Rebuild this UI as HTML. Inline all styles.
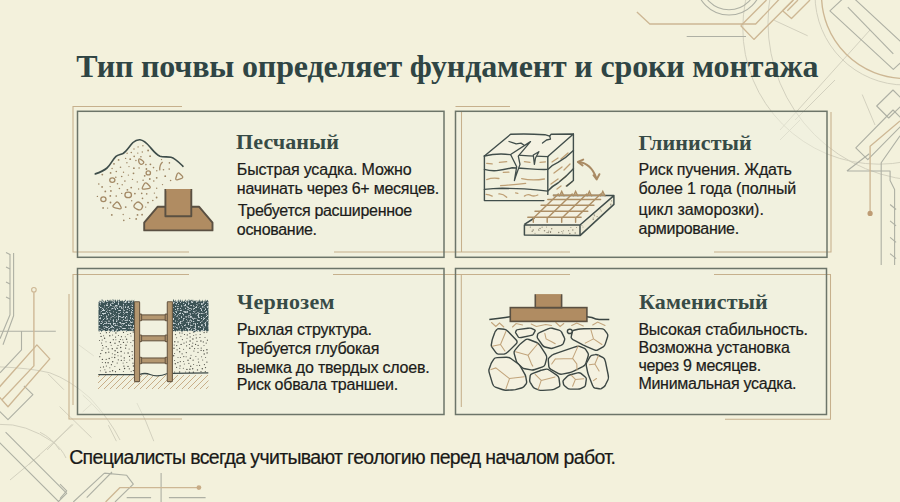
<!DOCTYPE html>
<html><head><meta charset="utf-8">
<style>
html,body{margin:0;padding:0;}
body{width:900px;height:502px;overflow:hidden;background:#F3F1DC;position:relative;font-family:"Liberation Sans",sans-serif;}
.a{position:absolute;white-space:nowrap;}
.title{font-family:"Liberation Serif",serif;font-weight:700;font-size:32px;color:#2F4544;line-height:40px;}
.h{font-family:"Liberation Serif",serif;font-weight:700;font-size:22px;color:#374B46;line-height:30px;}
.t{font-size:16px;color:#1C1C1A;line-height:24px;-webkit-text-stroke:0.2px #1C1C1A;}
.foot{font-size:19.5px;color:#191917;line-height:28px;-webkit-text-stroke:0.2px #191917;}
svg{position:absolute;left:0;top:0;}
</style></head><body>
<svg width="900" height="502" viewBox="0 0 900 502">
  <g id="bg" fill="none" stroke-linejoin="round">
<g stroke="#CFCDBB" stroke-width="0.9">
<circle cx="905" cy="-5" r="90"/>
<circle cx="878.9" cy="28.1" r="136.1"/>
<circle cx="926.2" cy="22.6" r="158.2"/>
<path d="M0,366.9 Q30,368 49.8,372.8 Q70,380 90,398 Q110,420 120,440"/>
<path d="M0,424.4 Q25,423 53.3,442.2 Q62,449 66,458"/>
<path d="M78.8,344.9 L93.8,355.9 M48,373.8 L63.9,389.7"/>
<path d="M59.6,406.6 L91.6,437.7 M82.7,395 Q92,403 100.4,412.8 M91.6,403.9 L82.7,411.9 M108.4,425.2 L116.4,441.2 M136.9,403 Q146,420 153.8,441.2 M72,424.3 L47.1,450 M40,432.3 Q52,438 59.6,450"/>
<path d="M780,130 L870,30" />
<path d="M862.2,94.5 L875,125"/>
<path d="M774.2,20.3 L807.7,35.8"/>
<path d="M28.9,464.4 L73.3,424.4 M10,480 L40,455"/>
<path d="M795,120 L835,80 M780,140 L800,120"/>
</g>
<g stroke="#AEB0A4" stroke-width="1.1">
<path d="M686.7,36.5 H746"/>
<circle cx="729" cy="-18" r="27.8"/><circle cx="729" cy="-18" r="33"/>
<path d="M829.9,10.8 L893.3,69.4 L912,52 L848.6,-6.6 Z"/>
<path d="M847.8,7.2 L893.3,53.8"/>
<path d="M855.8,147.8 L867.8,159.7 L905,122 L893,110 Z"/>
<path d="M876.7,106 L888.7,118 L905,102 L893,90 Z"/>
<path d="M846.9,171 L869.3,153.7 M846.9,171 H890.1 V180.6 L894.6,189.6 V265"/>
<path d="M881.2,265 V162.7 L900,135.8"/>
<path d="M890.1,204.5 L896.1,209.5 M890.1,220.9 L896.1,225.9 M890.1,237.3 L896.1,242.3 M890.1,253.7 L896.1,258.7"/>
<path d="M10,254 V314.8 L0,338.7 M13.6,253 V315.8 L3,344.7"/>
<path d="M6,252.5 L10,254.5 M6,267 L10,269 M6,282 L10,284 M6,297 L10,299"/>
<path d="M0,331.3 H55.8 M21.5,331.3 V349.9 L0,372.8"/>
<path d="M23.9,385.8 L32.9,394.7 L8,419.6 L-1,410.7"/>
<path d="M5.6,432.2 L66.7,493.3 L58,502 M-5,438 L59,502"/>
<path d="M73.3,502 L104.4,473.1 M86.7,497.6 L112,472 M104.4,473.1 L126.7,475.3 L133.3,484.2 L115,502"/>
<path d="M126.7,497.6 H151.1 M168.9,497.6 H205.6 M161.1,473 V502 M60,484.2 L66.7,490.9 L60,498.7"/>
</g>
<g stroke="#CDB794" stroke-width="1.35">
<path d="M636.9,12.1 L649.8,24 H755.7 L779,-0.5"/>
<path d="M740.8,25.7 L753.9,39.4 L793.3,0 M740.8,25.7 L766.5,0"/>
<path d="M782.6,10.8 L791.5,18.5 L810,0 M782.6,10.8 L793.4,0 M787.3,10.8 L798,0"/>
<circle cx="905" cy="-5" r="83.5"/>
<path d="M900,120.9 L870.1,146.3 V211"/>
<path d="M33.9,292.2 V365.9 L2,399.7"/>
<path d="M36.9,344.9 L49.8,358.9 L8,406.7 L-5,392 Z"/>
<path d="M105.6,502 L120,487.6 H197"/>
</g>
<circle cx="870.1" cy="213.4" r="2.6" fill="#BE9C74"/>
<circle cx="198.9" cy="487.6" r="2.4" fill="#C8AC86"/>
<circle cx="33.9" cy="289.8" r="2.3" stroke="#CDB794" stroke-width="1.1" fill="none"/>
</g>
  <!-- card fills -->
  <g fill="#F0F2E2" fill-opacity="0.45">
    <rect x="77.5" y="111.3" width="366.5" height="146"/>
    <rect x="455.5" y="111.3" width="371.5" height="146"/>
    <rect x="77.5" y="268.5" width="366.5" height="146"/>
    <rect x="455.5" y="268.5" width="371" height="146"/>
  </g>
  <!-- tan frame lines -->
  <g stroke="#C6B08C" stroke-width="1.05" fill="none">
    <path d="M182 106.5H73V252H189 M334 252H570 M714 252H831V112"/>
    <path d="M510 106.5H455.5 M461.5 111V252"/>
    <path d="M189 274.4H73V405 M69 294V419H182 M333 274.4H570 M714 274.4H830.5V419.3H725 M461.3 274.4V407"/>
  </g>
  <!-- dark frames -->
  <g stroke="#6C7569" stroke-width="1.5" fill="none">
    <rect x="77.5" y="111.3" width="366.5" height="146"/>
    <rect x="455.5" y="111.3" width="371.5" height="146"/>
    <rect x="77.5" y="268.5" width="366.5" height="146"/>
    <rect x="455.5" y="268.5" width="371" height="146"/>
  </g>
<g id="sand">
<path d="M95.3,173.9 C101,172 104,170.5 107,168 C110.5,165 112.5,159.5 116,156.3 C118,154.8 120.5,154.6 123,153.5 C127,151 129.5,146 133,142.5 C135.5,140.3 137.5,139.6 140,139.8 C144,140.2 147,143.5 150,147 C153,150.5 156,154.5 160,156.3 C163,157.3 168,156.6 171,157.3 C175,158.3 179,162.5 183,166.3" fill="none" stroke="#3E4D4A" stroke-width="1.65" stroke-linecap="round"/>
<g fill="#9C8462">
<circle cx="127.1" cy="153.2" r="0.7"/>
<circle cx="135.9" cy="160.5" r="0.7"/>
<circle cx="125.7" cy="207.1" r="0.9"/>
<circle cx="150.1" cy="156.2" r="0.9"/>
<circle cx="116.2" cy="196.1" r="0.8"/>
<circle cx="124.9" cy="181.1" r="0.8"/>
<circle cx="123.8" cy="220.4" r="0.8"/>
<circle cx="136.2" cy="218.9" r="0.9"/>
<circle cx="123.5" cy="172.2" r="0.7"/>
<circle cx="153.8" cy="181.0" r="0.8"/>
<circle cx="118.6" cy="159.9" r="0.9"/>
<circle cx="114.0" cy="163.8" r="0.9"/>
<circle cx="133.5" cy="173.3" r="0.9"/>
<circle cx="134.2" cy="156.4" r="0.8"/>
<circle cx="112.1" cy="168.5" r="0.7"/>
<circle cx="116.3" cy="171.5" r="0.8"/>
<circle cx="140.9" cy="156.7" r="0.8"/>
<circle cx="119.4" cy="188.5" r="0.8"/>
<circle cx="115.8" cy="177.2" r="0.8"/>
<circle cx="138.1" cy="146.9" r="0.7"/>
<circle cx="156.8" cy="170.7" r="0.7"/>
<circle cx="169.4" cy="162.9" r="0.8"/>
<circle cx="125.6" cy="158.4" r="0.7"/>
<circle cx="132.5" cy="179.4" r="0.7"/>
<circle cx="144.7" cy="175.8" r="0.9"/>
<circle cx="161.5" cy="159.6" r="0.7"/>
<circle cx="98.8" cy="184.0" r="0.8"/>
<circle cx="154.4" cy="193.1" r="0.7"/>
<circle cx="142.5" cy="198.4" r="0.8"/>
<circle cx="129.0" cy="166.6" r="0.7"/>
<circle cx="139.1" cy="168.0" r="0.8"/>
<circle cx="128.4" cy="175.1" r="0.7"/>
<circle cx="142.1" cy="214.7" r="0.9"/>
<circle cx="110.6" cy="172.9" r="0.9"/>
<circle cx="129.7" cy="218.4" r="0.7"/>
<circle cx="103.1" cy="207.9" r="0.9"/>
<circle cx="153.5" cy="167.6" r="0.8"/>
<circle cx="134.9" cy="193.6" r="0.9"/>
<circle cx="131.7" cy="200.8" r="0.7"/>
<circle cx="123.2" cy="214.5" r="0.7"/>
<circle cx="131.3" cy="152.5" r="0.8"/>
<circle cx="143.1" cy="180.2" r="0.8"/>
<circle cx="146.7" cy="193.9" r="0.8"/>
<circle cx="105.3" cy="191.4" r="0.9"/>
<circle cx="120.5" cy="167.2" r="0.8"/>
<circle cx="110.9" cy="190.9" r="0.9"/>
<circle cx="102.1" cy="186.9" r="0.9"/>
<circle cx="130.2" cy="159.2" r="0.9"/>
<circle cx="111.8" cy="214.9" r="0.9"/>
<circle cx="162.5" cy="184.6" r="0.7"/>
<circle cx="150.4" cy="164.3" r="0.9"/>
<circle cx="165.2" cy="176.2" r="0.9"/>
<circle cx="156.7" cy="188.3" r="0.7"/>
<circle cx="156.7" cy="177.8" r="0.9"/>
<circle cx="146.4" cy="169.0" r="0.9"/>
<circle cx="169.2" cy="169.1" r="0.8"/>
<circle cx="142.9" cy="145.7" r="0.7"/>
<circle cx="152.8" cy="200.5" r="0.8"/>
<circle cx="97.4" cy="196.4" r="0.7"/>
<circle cx="110.5" cy="202.5" r="0.9"/>
<circle cx="131.2" cy="187.6" r="0.9"/>
<circle cx="126.9" cy="162.7" r="0.7"/>
<circle cx="138.6" cy="189.0" r="0.7"/>
<circle cx="110.3" cy="195.9" r="0.9"/>
<circle cx="137.8" cy="153.1" r="0.7"/>
<circle cx="137.5" cy="214.9" r="0.9"/>
<circle cx="149.4" cy="220.8" r="0.9"/>
<circle cx="137.3" cy="181.9" r="0.7"/>
<circle cx="148.1" cy="150.5" r="0.9"/>
<circle cx="145.7" cy="207.1" r="0.7"/>
<circle cx="134.0" cy="149.0" r="0.7"/>
<circle cx="121.7" cy="193.4" r="0.7"/>
<circle cx="163.5" cy="169.7" r="0.8"/>
<circle cx="117.5" cy="183.7" r="0.8"/>
<circle cx="156.6" cy="197.5" r="0.9"/>
<circle cx="110.2" cy="186.6" r="0.7"/>
<circle cx="148.0" cy="202.6" r="0.9"/>
<circle cx="149.8" cy="179.0" r="0.9"/>
<circle cx="141.7" cy="193.4" r="0.8"/>
<circle cx="127.4" cy="189.8" r="0.9"/>
<circle cx="170.6" cy="180.5" r="0.8"/>
<circle cx="102.3" cy="174.6" r="0.9"/>
<circle cx="133.9" cy="168.2" r="0.9"/>
<circle cx="142.3" cy="152.0" r="0.7"/>
<circle cx="121.7" cy="176.5" r="0.8"/>
<circle cx="107.6" cy="208.1" r="0.7"/>
<circle cx="145.9" cy="164.6" r="0.8"/>
<circle cx="122.2" cy="184.8" r="0.7"/>
</g>
<g fill="none" stroke="#A48A66" stroke-width="1.3">
<path d="M115.62,202.85 Q117.6,200.8 119.15,203.64 L120.75,206.56 Q122.3,209.4 118.77,208.61 L115.13,207.79 Q111.6,207 113.58,204.95 Z"/>
<path d="M135.62,203.32 Q137.8,200.8 140.24,202.90 L141.16,203.70 Q143.6,205.8 142.09,207.94 L141.51,208.76 Q140,210.9 136.89,209.18 L135.71,208.52 Q132.6,206.8 134.78,204.28 Z"/>
<path d="M144.01,184.24 Q145.4,181.6 147.45,183.75 L149.55,185.95 Q151.6,188.1 148.17,188.59 L144.63,189.10 Q141.2,189.6 142.59,186.96 Z"/>
<path d="M176.88,174.70 Q177.8,171.8 179.85,173.71 L181.95,175.69 Q184,177.6 181.03,178.59 L177.97,179.61 Q175,180.6 175.92,177.70 Z"/>
<path d="M138.67,160.21 Q138.5,157.9 141.06,159.62 L142.04,160.28 Q144.6,162 143.42,163.18 L142.98,163.62 Q141.8,164.8 140.58,164.21 L140.12,163.99 Q138.9,163.4 138.73,161.09 Z"/>
<ellipse cx="148.3" cy="172.9" rx="2.2" ry="2"/>
<ellipse cx="112.3" cy="180.1" rx="2.6" ry="2.3"/>
<ellipse cx="128.2" cy="194.9" rx="3.3" ry="2.8"/>
<ellipse cx="103.4" cy="199.2" rx="2.6" ry="2.4"/>
<path d="M162.6,162 Q159.2,165 159.8,170.4"/>
</g>
<path d="M144.2,230.4 V222.7 L157.5,206.8 H199.2 L212.5,222.7 V230.4 Z" fill="#B08C62" stroke="#5A5042" stroke-width="1.9" stroke-linejoin="round"/>
<path d="M165.4,189 V216.2 H191.3 V189" fill="#B08C62" stroke="#5A5042" stroke-width="1.9" stroke-linejoin="round"/>
<rect x="166.4" y="189" width="23.9" height="2" fill="#B08C62"/>
</g>
<g id="clay">
<path d="M484.4,156 L510.6,134.3 L573.4,134 L547.8,156.6 Z" fill="#F4F2E2"/>
<g fill="none" stroke="#BE9F74" stroke-width="1.3" stroke-linecap="round">
<path d="M486.7,163.3 L492.2,163.9"/>
<path d="M499.4,162.4 L506.7,161.7"/>
<path d="M524.4,161.7 L530,162.3"/>
<path d="M540,162.3 L545.4,161.8"/>
<path d="M503.3,172.4 L508.9,172.2"/>
<path d="M486.7,179.6 Q492,177.6 498.9,178.5"/>
<path d="M521.7,178.6 Q532,181 544.4,179"/>
<path d="M500.6,185.6 Q512,184.8 525.6,183.4"/>
<path d="M486.1,194.4 Q489,194.6 492.2,196.1"/>
<path d="M498.9,193.9 Q503,193.5 506.7,197.2"/>
<path d="M515.6,192.9 L517.8,193.3"/>
<path d="M524.4,196.1 Q528,193.6 531,195.4 Q534,196.8 537.8,195"/>
<path d="M552,162 L558,158"/>
<path d="M561,159 L568,153"/>
<path d="M554,173 L562,167"/>
<path d="M564,170 L570,164"/>
<path d="M551,184 L558,179"/>
<path d="M560,181 L566,176"/>
<path d="M566,186 L572,182"/>
<path d="M557,189 L561,186"/>
</g>
<g fill="none" stroke="#414E4B" stroke-width="1.4" stroke-linejoin="round" stroke-linecap="round">
<path d="M484.4,156 Q497,153 510,154.6 Q529,156 547.8,156.6"/>
<path d="M484.4,156 V200.6 H543.9"/>
<path d="M547.8,156.6 V194.4"/>
<path d="M484.4,156 L510.6,134.3 Q526,133.4 544.9,134.7 L549.7,136.2 L551.2,134.2 L573.4,134 L547.8,156.6"/>
<path d="M573.4,134 V180.5 L566.7,186.1"/>
<path d="M484.4,169.4 Q490,171 496.7,170.6 Q505,169.5 512.2,167.8 Q521,168.2 530,168.9 Q540,169.6 547.8,169.4 Q553,164.5 558,162.4 Q566,158 573.4,150.5"/>
<path d="M484.4,189.4 Q493,188.5 502.2,188.3 Q514,188.5 524.4,188.9 Q537,190 547.8,191.1 Q553,185.5 558,183 Q566,177 573.4,168.8"/>
</g>
<g fill="none" stroke="#414E4B" stroke-width="1.3" stroke-linejoin="round" stroke-linecap="round">
<path d="M530.5,141.6 L510.6,154.5 L516.7,166.7 L514.4,180.6 L515.6,176.7 L520,164.4 L518.3,156.1 L530.5,141.6" fill="#F4F2E2"/>
<path d="M538.9,151.7 L533.3,155 L534.4,164.4 L535.5,158 L538.9,151.7" fill="#F4F2E2"/>
<path d="M509,141.5 L512.5,142.6 L516.2,143.9 L521,143.1 L524.2,145.2"/>
<path d="M542.5,143.1 L546.5,140 L550.5,139.1 L549.7,136.2"/>
</g>
<g fill="none" stroke="#A98A63" stroke-width="2" stroke-linecap="round" stroke-linejoin="round">
<path d="M578.5,162 Q591,163 596.5,178.5"/>
<path d="M583.2,159.6 L577.9,161.9 L582.6,165.5"/>
<path d="M593.5,175.2 L596.7,179.4 L599.4,174.2"/>
</g>
<path d="M524.4,224.4 L553,195.6 L613.9,195.6 L580,225 Z" fill="#F2F0E0"/>
<path d="M524.4,224.4 L580,225 V235.6 L524.4,235 Z" fill="#EEEBD6"/>
<path d="M580,225 L613.9,195.6 V204.4 L580,235.6 Z" fill="#EEEBD6"/>
<g fill="#8F8A78">
<circle cx="538.9" cy="230.5" r="0.6"/>
<circle cx="572.8" cy="230.1" r="0.75"/>
<circle cx="530.3" cy="227.1" r="0.6"/>
<circle cx="540.0" cy="228.5" r="0.75"/>
<circle cx="550.5" cy="232.4" r="0.6"/>
<circle cx="546.9" cy="232.6" r="0.5"/>
<circle cx="558.7" cy="232.6" r="0.75"/>
<circle cx="546.5" cy="227.1" r="0.5"/>
<circle cx="535.0" cy="233.2" r="0.5"/>
<circle cx="542.1" cy="227.2" r="0.6"/>
<circle cx="550.6" cy="231.7" r="0.6"/>
<circle cx="562.7" cy="233.0" r="0.6"/>
<circle cx="563.4" cy="230.7" r="0.5"/>
<circle cx="570.9" cy="227.6" r="0.5"/>
<circle cx="551.7" cy="228.7" r="0.75"/>
<circle cx="548.8" cy="231.1" r="0.6"/>
<circle cx="548.1" cy="232.4" r="0.75"/>
<circle cx="544.5" cy="230.8" r="0.75"/>
<circle cx="538.6" cy="229.2" r="0.5"/>
<circle cx="569.8" cy="233.4" r="0.75"/>
<circle cx="561.8" cy="231.5" r="0.6"/>
<circle cx="575.2" cy="232.9" r="0.75"/>
<circle cx="532.2" cy="231.3" r="0.75"/>
<circle cx="568.6" cy="230.7" r="0.6"/>
<circle cx="533.2" cy="230.1" r="0.75"/>
<circle cx="576.5" cy="227.6" r="0.5"/>
<circle cx="594.2" cy="214.9" r="0.6"/>
<circle cx="594.7" cy="215.8" r="0.5"/>
<circle cx="583.0" cy="226.9" r="0.5"/>
<circle cx="593.2" cy="218.0" r="0.6"/>
<circle cx="597.1" cy="216.6" r="0.6"/>
<circle cx="581.9" cy="225.4" r="0.5"/>
<circle cx="610.6" cy="204.8" r="0.6"/>
<circle cx="600.3" cy="209.7" r="0.5"/>
<circle cx="611.6" cy="200.8" r="0.6"/>
<circle cx="610.9" cy="204.1" r="0.6"/>
<circle cx="593.2" cy="219.4" r="0.6"/>
<circle cx="601.3" cy="211.0" r="0.5"/>
</g>
<g fill="none" stroke="#414E4B" stroke-width="1.5" stroke-linejoin="round">
<path d="M524.4,224.4 L534.4,218 M553,195.6 H613.9 L580,225 H524.4 V235 L580,235.6 L613.9,204.4 V195.6 M580,225 V235.6"/>
</g>
<g fill="none" stroke="#AD8F66" stroke-width="1.45" stroke-linecap="round">
<path d="M553.3,195.3 H604.4"/>
<path d="M547.8,199.4 H600.6"/>
<path d="M541.1,205.3 H593.9"/>
<path d="M535,211.3 H587.8"/>
<path d="M527.8,217.2 H581.1"/>
<path d="M533.3,222.2 V218.3 L558.3,193.9"/>
<path d="M547.2,222.2 V218.3 L572.2,193.9"/>
<path d="M561.7,222.2 V218.3 L586.7,193.9"/>
<path d="M575.6,222.2 V218.3 L600.6,193.9"/>
<path d="M559.4000000000001,196 L561.7,191.2 L564.0,196 M560.5,194 H562.9000000000001" stroke-width="1.2"/>
<path d="M573.3000000000001,196 L575.6,191.2 L577.9,196 M574.4,194 H576.8000000000001" stroke-width="1.2"/>
<path d="M587.1,196 L589.4,191.2 L591.6999999999999,196 M588.1999999999999,194 H590.6" stroke-width="1.2"/>
<path d="M600.5,196 L602.8,191.2 L605.0999999999999,196 M601.5999999999999,194 H604.0" stroke-width="1.2"/>
</g>
</g>
<g id="cher">
<clipPath id="hc"><rect x="98" y="375" width="110.5" height="14"/></clipPath>
<g clip-path="url(#hc)" stroke="#C8AE88" stroke-width="1.0">
<path d="M80,389 L94,375"/>
<path d="M86,389 L100,375"/>
<path d="M92,389 L106,375"/>
<path d="M98,389 L112,375"/>
<path d="M104,389 L118,375"/>
<path d="M110,389 L124,375"/>
<path d="M116,389 L130,375"/>
<path d="M122,389 L136,375"/>
<path d="M128,389 L142,375"/>
<path d="M134,389 L148,375"/>
<path d="M140,389 L154,375"/>
<path d="M146,389 L160,375"/>
<path d="M152,389 L166,375"/>
<path d="M158,389 L172,375"/>
<path d="M164,389 L178,375"/>
<path d="M170,389 L184,375"/>
<path d="M176,389 L190,375"/>
<path d="M182,389 L196,375"/>
<path d="M188,389 L202,375"/>
<path d="M194,389 L208,375"/>
<path d="M200,389 L214,375"/>
<path d="M206,389 L220,375"/>
<path d="M212,389 L226,375"/>
<path d="M218,389 L232,375"/>
<path d="M224,389 L238,375"/>
<path d="M230,389 L244,375"/>
<path d="M236,389 L250,375"/>
</g>
<g fill="#4E4E46">
<circle cx="114.9" cy="354.7" r="0.6"/>
<circle cx="114.9" cy="366.6" r="0.5"/>
<circle cx="105.8" cy="352.7" r="0.7"/>
<circle cx="120.4" cy="339.5" r="0.6"/>
<circle cx="109.8" cy="335.7" r="0.7"/>
<circle cx="121.1" cy="356.1" r="0.6"/>
<circle cx="132.3" cy="358.5" r="0.7"/>
<circle cx="127.8" cy="334.6" r="0.5"/>
<circle cx="106.0" cy="341.8" r="0.5"/>
<circle cx="126.0" cy="345.2" r="0.7"/>
<circle cx="128.1" cy="353.0" r="0.7"/>
<circle cx="109.5" cy="332.2" r="0.5"/>
<circle cx="115.0" cy="343.3" r="0.7"/>
<circle cx="133.4" cy="366.0" r="0.7"/>
<circle cx="108.1" cy="362.7" r="0.7"/>
<circle cx="125.6" cy="348.2" r="0.6"/>
<circle cx="112.6" cy="370.8" r="0.7"/>
<circle cx="99.5" cy="340.5" r="0.5"/>
<circle cx="115.5" cy="371.7" r="0.6"/>
<circle cx="106.2" cy="359.3" r="0.6"/>
<circle cx="102.5" cy="345.5" r="0.6"/>
<circle cx="125.3" cy="336.8" r="0.5"/>
<circle cx="123.5" cy="332.4" r="0.6"/>
<circle cx="126.6" cy="339.2" r="0.7"/>
<circle cx="133.0" cy="363.2" r="0.6"/>
<circle cx="121.4" cy="336.7" r="0.6"/>
<circle cx="133.2" cy="332.0" r="0.7"/>
<circle cx="109.8" cy="367.8" r="0.5"/>
<circle cx="105.9" cy="372.3" r="0.7"/>
<circle cx="133.1" cy="340.6" r="0.6"/>
<circle cx="99.8" cy="356.7" r="0.6"/>
<circle cx="112.6" cy="335.0" r="0.5"/>
<circle cx="119.3" cy="341.8" r="0.7"/>
<circle cx="112.0" cy="357.2" r="0.5"/>
<circle cx="132.1" cy="351.6" r="0.7"/>
<circle cx="120.8" cy="344.6" r="0.5"/>
<circle cx="127.3" cy="342.1" r="0.5"/>
<circle cx="118.3" cy="359.8" r="0.6"/>
<circle cx="129.5" cy="356.4" r="0.6"/>
<circle cx="101.1" cy="336.4" r="0.7"/>
<circle cx="123.5" cy="342.4" r="0.7"/>
<circle cx="131.1" cy="371.6" r="0.5"/>
<circle cx="106.4" cy="332.7" r="0.6"/>
<circle cx="124.4" cy="353.1" r="0.5"/>
<circle cx="119.6" cy="369.4" r="0.6"/>
<circle cx="121.1" cy="351.5" r="0.7"/>
<circle cx="102.0" cy="350.4" r="0.6"/>
<circle cx="124.6" cy="368.5" r="0.7"/>
<circle cx="132.3" cy="345.8" r="0.5"/>
<circle cx="129.1" cy="348.9" r="0.5"/>
<circle cx="120.7" cy="347.5" r="0.7"/>
<circle cx="108.2" cy="348.9" r="0.6"/>
<circle cx="112.7" cy="361.8" r="0.7"/>
<circle cx="115.1" cy="350.7" r="0.7"/>
<circle cx="102.3" cy="362.4" r="0.5"/>
<circle cx="100.3" cy="370.8" r="0.5"/>
<circle cx="130.8" cy="342.4" r="0.5"/>
<circle cx="126.8" cy="362.6" r="0.5"/>
<circle cx="128.0" cy="366.4" r="0.7"/>
<circle cx="123.9" cy="366.1" r="0.7"/>
<circle cx="100.6" cy="367.3" r="0.5"/>
<circle cx="113.3" cy="339.7" r="0.6"/>
<circle cx="114.7" cy="357.5" r="0.7"/>
<circle cx="102.2" cy="340.0" r="0.6"/>
<circle cx="111.2" cy="345.2" r="0.5"/>
<circle cx="110.0" cy="371.6" r="0.6"/>
<circle cx="100.7" cy="353.6" r="0.7"/>
<circle cx="124.3" cy="357.9" r="0.7"/>
<circle cx="108.8" cy="352.2" r="0.6"/>
<circle cx="117.7" cy="352.4" r="0.7"/>
<circle cx="112.3" cy="353.8" r="0.5"/>
<circle cx="117.0" cy="348.2" r="0.7"/>
<circle cx="103.6" cy="335.8" r="0.5"/>
<circle cx="115.6" cy="337.1" r="0.6"/>
<circle cx="123.4" cy="371.6" r="0.5"/>
<circle cx="112.3" cy="348.7" r="0.7"/>
<circle cx="118.0" cy="355.8" r="0.5"/>
<circle cx="122.8" cy="339.7" r="0.5"/>
<circle cx="115.9" cy="333.0" r="0.7"/>
<circle cx="115.9" cy="339.7" r="0.5"/>
<circle cx="106.4" cy="366.0" r="0.6"/>
<circle cx="131.0" cy="335.9" r="0.5"/>
<circle cx="129.3" cy="368.8" r="0.6"/>
<circle cx="104.9" cy="369.8" r="0.5"/>
<circle cx="123.1" cy="363.1" r="0.5"/>
<circle cx="121.3" cy="360.4" r="0.6"/>
<circle cx="132.4" cy="355.0" r="0.5"/>
<circle cx="109.2" cy="358.5" r="0.7"/>
<circle cx="103.5" cy="366.9" r="0.6"/>
<circle cx="133.4" cy="370.6" r="0.7"/>
<circle cx="124.2" cy="360.3" r="0.5"/>
<circle cx="101.6" cy="343.0" r="0.6"/>
<circle cx="100.4" cy="333.5" r="0.5"/>
<circle cx="102.4" cy="359.4" r="0.7"/>
<circle cx="104.6" cy="338.2" r="0.7"/>
<circle cx="105.5" cy="362.7" r="0.6"/>
<circle cx="118.0" cy="345.5" r="0.6"/>
<circle cx="117.2" cy="363.0" r="0.6"/>
<circle cx="111.4" cy="364.7" r="0.6"/>
<circle cx="130.4" cy="333.5" r="0.5"/>
<circle cx="106.2" cy="346.6" r="0.7"/>
<circle cx="110.4" cy="342.5" r="0.7"/>
<circle cx="129.7" cy="360.1" r="0.5"/>
<circle cx="103.1" cy="348.0" r="0.6"/>
<circle cx="118.4" cy="335.5" r="0.5"/>
<circle cx="180.3" cy="361.6" r="0.6"/>
<circle cx="184.0" cy="343.1" r="0.6"/>
<circle cx="198.1" cy="345.4" r="0.6"/>
<circle cx="176.6" cy="337.7" r="0.5"/>
<circle cx="178.0" cy="357.5" r="0.5"/>
<circle cx="179.6" cy="348.3" r="0.6"/>
<circle cx="193.7" cy="335.6" r="0.5"/>
<circle cx="174.6" cy="372.0" r="0.6"/>
<circle cx="187.3" cy="334.9" r="0.6"/>
<circle cx="205.0" cy="337.6" r="0.5"/>
<circle cx="199.6" cy="365.3" r="0.6"/>
<circle cx="189.9" cy="369.3" r="0.7"/>
<circle cx="174.0" cy="348.2" r="0.7"/>
<circle cx="184.3" cy="363.9" r="0.5"/>
<circle cx="195.9" cy="356.6" r="0.5"/>
<circle cx="182.4" cy="339.6" r="0.6"/>
<circle cx="186.3" cy="352.6" r="0.6"/>
<circle cx="201.6" cy="356.8" r="0.5"/>
<circle cx="182.1" cy="353.8" r="0.6"/>
<circle cx="192.1" cy="346.3" r="0.7"/>
<circle cx="191.0" cy="355.3" r="0.5"/>
<circle cx="207.1" cy="352.9" r="0.7"/>
<circle cx="197.5" cy="369.9" r="0.7"/>
<circle cx="205.6" cy="357.4" r="0.5"/>
<circle cx="199.9" cy="337.5" r="0.6"/>
<circle cx="193.1" cy="360.2" r="0.6"/>
<circle cx="176.6" cy="367.3" r="0.6"/>
<circle cx="204.2" cy="354.0" r="0.7"/>
<circle cx="204.0" cy="345.6" r="0.5"/>
<circle cx="183.3" cy="368.3" r="0.5"/>
<circle cx="201.1" cy="350.4" r="0.6"/>
<circle cx="179.6" cy="372.0" r="0.7"/>
<circle cx="202.3" cy="368.7" r="0.7"/>
<circle cx="193.6" cy="364.6" r="0.5"/>
<circle cx="174.6" cy="353.4" r="0.5"/>
<circle cx="192.9" cy="339.0" r="0.7"/>
<circle cx="178.0" cy="341.9" r="0.6"/>
<circle cx="175.3" cy="363.8" r="0.7"/>
<circle cx="196.3" cy="337.9" r="0.6"/>
<circle cx="193.9" cy="351.0" r="0.6"/>
<circle cx="197.0" cy="365.4" r="0.5"/>
<circle cx="192.7" cy="368.7" r="0.7"/>
<circle cx="203.3" cy="341.9" r="0.6"/>
<circle cx="205.5" cy="367.6" r="0.7"/>
<circle cx="200.9" cy="341.0" r="0.7"/>
<circle cx="183.6" cy="361.5" r="0.5"/>
<circle cx="184.5" cy="334.5" r="0.6"/>
<circle cx="201.2" cy="348.1" r="0.6"/>
<circle cx="197.0" cy="341.3" r="0.6"/>
<circle cx="205.3" cy="371.6" r="0.6"/>
<circle cx="202.7" cy="360.0" r="0.5"/>
<circle cx="180.1" cy="365.9" r="0.6"/>
<circle cx="204.1" cy="332.6" r="0.7"/>
<circle cx="180.4" cy="357.6" r="0.5"/>
<circle cx="195.6" cy="344.4" r="0.6"/>
<circle cx="206.2" cy="343.1" r="0.6"/>
<circle cx="181.1" cy="344.4" r="0.7"/>
<circle cx="198.0" cy="352.3" r="0.6"/>
<circle cx="206.9" cy="349.8" r="0.7"/>
<circle cx="173.7" cy="355.8" r="0.7"/>
<circle cx="179.8" cy="368.3" r="0.5"/>
<circle cx="193.4" cy="332.1" r="0.6"/>
<circle cx="175.5" cy="334.6" r="0.7"/>
<circle cx="189.9" cy="333.3" r="0.6"/>
<circle cx="190.7" cy="366.2" r="0.7"/>
<circle cx="206.9" cy="362.1" r="0.7"/>
<circle cx="190.1" cy="341.0" r="0.7"/>
<circle cx="188.0" cy="360.2" r="0.7"/>
<circle cx="186.4" cy="342.0" r="0.6"/>
<circle cx="200.2" cy="334.5" r="0.6"/>
<circle cx="177.9" cy="362.6" r="0.7"/>
<circle cx="174.8" cy="341.7" r="0.7"/>
<circle cx="183.6" cy="349.2" r="0.5"/>
<circle cx="193.4" cy="372.3" r="0.7"/>
<circle cx="203.6" cy="350.7" r="0.6"/>
<circle cx="189.8" cy="348.2" r="0.7"/>
<circle cx="189.4" cy="344.5" r="0.6"/>
<circle cx="179.7" cy="351.7" r="0.7"/>
<circle cx="186.9" cy="369.4" r="0.7"/>
<circle cx="180.9" cy="336.2" r="0.5"/>
<circle cx="174.2" cy="345.0" r="0.6"/>
<circle cx="183.8" cy="356.6" r="0.6"/>
<circle cx="198.2" cy="359.0" r="0.5"/>
<circle cx="186.1" cy="356.8" r="0.5"/>
<circle cx="201.0" cy="371.5" r="0.6"/>
<circle cx="196.0" cy="334.7" r="0.5"/>
<circle cx="204.4" cy="364.6" r="0.6"/>
<circle cx="182.1" cy="333.0" r="0.6"/>
<circle cx="186.6" cy="345.8" r="0.6"/>
<circle cx="174.6" cy="360.6" r="0.5"/>
<circle cx="194.6" cy="348.6" r="0.6"/>
<circle cx="206.8" cy="332.1" r="0.7"/>
<circle cx="190.3" cy="358.3" r="0.7"/>
<circle cx="187.0" cy="338.3" r="0.5"/>
<circle cx="188.9" cy="363.3" r="0.6"/>
<circle cx="198.0" cy="348.5" r="0.5"/>
<circle cx="190.1" cy="336.9" r="0.6"/>
<circle cx="192.8" cy="343.1" r="0.6"/>
<circle cx="207.4" cy="340.2" r="0.6"/>
<circle cx="176.7" cy="345.6" r="0.7"/>
<circle cx="179.7" cy="332.9" r="0.6"/>
<circle cx="185.6" cy="372.1" r="0.5"/>
<circle cx="198.6" cy="362.1" r="0.6"/>
<circle cx="189.4" cy="372.2" r="0.7"/>
<circle cx="177.1" cy="349.8" r="0.6"/>
</g>
<filter id="spk" x="0" y="0" width="100%" height="100%"><feTurbulence type="fractalNoise" baseFrequency="0.6" numOctaves="2" seed="5" result="n"/><feColorMatrix in="n" type="matrix" values="0 0 0 0 0.60  0 0 0 0 0.68  0 0 0 0 0.70  6 0 0 0 -3.2" result="s0"/><feGaussianBlur in="s0" stdDeviation="0.25" result="s"/><feComposite in="s" in2="SourceAlpha" operator="in" result="s2"/><feMerge><feMergeNode in="SourceGraphic"/><feMergeNode in="s2"/></feMerge></filter>
<path d="M98.5,331 L98.5,302.5 L99.5,300.4 L100.6,301.7 L101.2,298.9 L101.8,302.5 L102.5,298.8 L103.1,302.2 L103.8,299.9 L104.5,302.4 L105.6,300.1 L106.6,301.4 L107.4,299.4 L108.2,301.0 L109.2,299.7 L110.1,301.7 L110.8,299.3 L111.4,301.8 L112.2,298.8 L112.9,302.5 L113.8,298.7 L114.7,301.6 L115.7,299.2 L116.7,302.3 L117.8,299.3 L118.9,301.3 L119.6,299.1 L120.3,301.3 L121.2,300.4 L122.0,301.4 L122.8,299.9 L123.5,301.9 L124.3,300.5 L125.0,301.1 L125.7,299.2 L126.4,302.3 L127.4,300.1 L128.4,301.1 L129.1,299.8 L129.9,301.9 L130.6,300.3 L131.3,301.2 L132.0,299.6 L132.6,301.6 L133.5,300.3 L134.3,301.2 L134.4,298.8 L134.5,301.1 L134.5,331 L133.3,331.0 L132.0,330.5 L131.1,331.3 L130.2,330.8 L129.0,331.2 L127.8,330.7 L126.6,331.8 L125.4,330.7 L124.1,330.5 L122.9,330.4 L122.1,331.2 L121.4,330.4 L120.0,331.3 L118.6,330.7 L117.8,332.3 L116.9,330.2 L116.1,331.8 L115.3,330.5 L114.4,332.1 L113.5,331.0 L112.7,331.7 L111.9,330.3 L110.4,332.1 L108.9,330.1 L107.7,330.8 L106.4,330.9 L105.5,331.5 L104.7,330.5 L103.4,330.6 L102.2,330.8 L101.4,332.1 L100.7,330.6 L99.7,331.6 L98.8,330.9 L98.7,332.5 L98.5,330.3Z" fill="#3B5356" filter="url(#spk)"/>
<path d="M172.5,331 L172.5,302.5 L173.5,298.8 L174.5,301.8 L175.4,299.6 L176.3,302.2 L177.1,300.3 L178.0,302.2 L178.6,298.8 L179.2,302.0 L180.2,298.9 L181.2,302.0 L182.3,299.6 L183.3,302.3 L184.2,300.2 L185.0,301.6 L185.8,299.0 L186.5,302.3 L187.2,299.8 L187.9,301.8 L188.9,299.1 L190.0,301.1 L191.1,299.5 L192.2,301.1 L193.0,299.3 L193.7,301.8 L194.4,299.9 L195.2,301.4 L196.1,299.7 L197.0,302.5 L197.9,300.2 L198.8,301.2 L199.4,298.9 L200.1,302.2 L200.9,300.2 L201.8,301.8 L202.5,299.4 L203.2,302.4 L204.1,300.3 L205.1,302.2 L205.8,299.1 L206.5,301.2 L207.5,299.8 L208.5,301.4 L208.5,299.8 L208.5,301.7 L208.5,331 L207.1,331.6 L205.6,330.2 L204.3,331.3 L203.0,330.7 L202.1,331.6 L201.1,330.3 L200.1,332.3 L199.0,330.8 L197.5,331.6 L196.0,330.9 L194.5,332.4 L193.1,330.9 L191.8,331.0 L190.6,330.4 L189.7,330.7 L188.8,330.2 L187.7,331.8 L186.7,330.7 L185.9,331.1 L185.0,330.5 L184.2,331.3 L183.3,330.7 L181.9,331.9 L180.6,330.3 L179.8,331.2 L179.0,330.0 L177.9,331.6 L176.7,330.3 L175.7,331.7 L174.7,330.9 L173.6,331.2 L172.5,330.8Z" fill="#3B5356" filter="url(#spk)"/>
<path d="M98.3,374.6 H135 M139.5,374.5 Q145,372.5 150,374.5 Q158,377.5 167.5,373.5 M172,373.4 L208.3,372.8" fill="none" stroke="#3D4A48" stroke-width="1.3"/>
<g fill="#B49770" stroke="#6A5A45" stroke-width="1.1">
<rect x="139" y="314.9" width="28.8" height="5" />
<rect x="139.2" y="314.09999999999997" width="2.4" height="6.6" rx="0.8"/>
<rect x="165.2" y="314.09999999999997" width="2.4" height="6.6" rx="0.8"/>
<rect x="139" y="335.8" width="28.8" height="5" />
<rect x="139.2" y="335.0" width="2.4" height="6.6" rx="0.8"/>
<rect x="165.2" y="335.0" width="2.4" height="6.6" rx="0.8"/>
<rect x="139" y="358" width="28.8" height="5" />
<rect x="139.2" y="357.2" width="2.4" height="6.6" rx="0.8"/>
<rect x="165.2" y="357.2" width="2.4" height="6.6" rx="0.8"/>
<rect x="134.5" y="301.8" width="5.1" height="79.8" rx="0.6"/>
<rect x="167.3" y="301.8" width="5.1" height="79.8" rx="0.6"/>
</g>
</g>
<g id="rocky">
<g fill="#F4F1E0" stroke="#3C4744" stroke-width="1.4" stroke-linejoin="round">
<path d="M497.2,329.1 Q497.6,328.6 499.1,328.7 L504.4,329.2 Q505.9,329.3 508.1,331.6 L516.0,339.7 Q518.2,342 516.0,344.1 L508.1,351.8 Q505.9,353.9 504.3,354.0 L498.5,354.1 Q496.9,354.2 495.9,352.7 L492.1,347.4 Q491.1,345.9 491.3,344.8 L492.0,340.9 Q492.2,339.8 492.7,338.3 L494.6,333.0 Q495.1,331.5 495.6,331.0 Z"/>
<path d="M516.5,330.1 Q516.8,329.7 519.3,329.4 L528.0,328.2 Q530.5,327.9 531.4,328.3 L534.6,329.9 Q535.5,330.4 535.0,331.2 L533.2,334.3 Q532.7,335.1 530.2,335.6 L521.4,337.5 Q518.9,338 518.3,337.0 L515.9,333.2 Q515.3,332.2 515.6,331.8 Z"/>
<path d="M525.5,339.7 Q526.8,338.6 529.0,339.5 L536.6,342.5 Q538.8,343.4 540.3,345.8 L545.6,354.1 Q547.1,356.5 546.7,358.2 L545.1,364.4 Q544.7,366.1 542.6,366.8 L534.9,369.5 Q532.8,370.2 531.1,369.9 L524.9,368.8 Q523.2,368.5 522.0,367.4 L517.9,363.6 Q516.7,362.5 516.2,360.6 L514.2,353.6 Q513.7,351.7 514.8,350.4 L518.5,345.9 Q519.6,344.6 520.9,343.5 Z"/>
<path d="M494.0,358.8 Q494.6,357.7 497.2,357.6 L506.3,357.2 Q508.9,357.1 510.8,358.5 L517.7,363.5 Q519.6,364.9 520.7,366.8 L524.5,373.7 Q525.6,375.6 525.8,376.9 L526.6,381.5 Q526.8,382.8 526.2,383.7 L523.8,386.7 Q523.2,387.6 521.5,388.0 L515.4,389.6 Q513.7,390 512.0,390.0 L505.8,390.2 Q504.1,390.2 502.2,389.5 L495.3,387.1 Q493.4,386.4 492.5,383.6 L489.5,373.6 Q488.6,370.8 489.0,369.5 L490.6,365.0 Q491,363.7 491.6,362.6 Z"/>
<path d="M537.7,334.1 Q537.8,333.4 540.0,332.4 L548.0,328.8 Q550.3,327.8 552.2,328.3 L558.9,330.1 Q560.8,330.6 561.6,332.1 L564.2,337.4 Q565,338.9 564.6,339.9 L563.3,343.5 Q562.9,344.5 560.9,345.3 L553.7,347.9 Q551.7,348.7 550.2,348.3 L544.9,347.0 Q543.4,346.6 542.3,345.0 L538.2,339.1 Q537.1,337.5 537.2,336.8 Z"/>
<path d="M572.3,331.8 Q572.6,330.6 573.9,330.3 L578.3,329.2 Q579.6,328.9 583.9,328.8 L599.0,328.6 Q603.3,328.5 604.2,329.6 L607.3,333.7 Q608.2,334.8 607.6,336.8 L605.3,343.9 Q604.7,345.9 603.2,346.8 L597.8,349.9 Q596.3,350.8 594.3,349.9 L587.2,346.8 Q585.2,345.9 582.9,344.8 L574.9,340.7 Q572.6,339.6 572.3,339.2 L571.3,337.9 Q571,337.5 571.3,336.3 Z"/>
<path d="M552.2,355.0 Q553.1,354.3 557.6,352.8 L573.7,347.4 Q578.2,345.9 579.5,346.4 L583.9,348.2 Q585.2,348.7 585.8,349.7 L588.1,353.3 Q588.7,354.3 588.1,356.3 L585.8,363.4 Q585.2,365.4 582.7,366.7 L573.7,371.1 Q571.2,372.4 569.2,372.8 L562.1,374.1 Q560.1,374.5 558.1,373.4 L550.9,369.3 Q548.9,368.2 548.8,366.4 L548.3,360.2 Q548.2,358.4 549.1,357.7 Z"/>
<path d="M589.8,357.2 Q590.7,355.7 591.7,355.4 L595.3,354.6 Q596.3,354.3 597.8,355.0 L603.2,357.7 Q604.7,358.4 605.5,361.9 L608.1,374.5 Q608.9,378 608.1,379.5 L605.5,384.8 Q604.7,386.3 603.9,386.8 L601.3,388.6 Q600.5,389.1 599.2,388.8 L594.8,388.0 Q593.5,387.7 592.5,385.2 L589.0,376.3 Q588,373.8 587.6,372.0 L586.3,365.8 Q585.9,364 586.8,362.5 Z"/>
<path d="M563.0,381.5 Q562.9,380.7 563.9,379.7 L567.4,376.2 Q568.4,375.2 570.4,374.7 L577.6,372.9 Q579.6,372.4 580.9,373.4 L585.3,377.0 Q586.6,378 586.3,379.5 L585.5,384.8 Q585.2,386.3 584.2,386.8 L580.6,388.6 Q579.6,389.1 577.6,389.1 L570.4,389.1 Q568.4,389.1 567.5,388.3 L564.5,385.7 Q563.6,384.9 563.5,384.1 Z"/>
<path d="M530.2,375.6 Q530.4,374.4 532.3,373.6 L539.3,371.0 Q541.2,370.2 542.3,370.0 L546.4,369.1 Q547.5,368.9 549.5,370.3 L556.7,375.2 Q558.7,376.6 559.0,378.3 L559.8,384.6 Q560.1,386.3 558.8,386.9 L554.4,389.2 Q553.1,389.8 550.9,389.9 L542.9,390.4 Q540.6,390.5 539.3,390.1 L534.8,388.4 Q533.5,388 532.8,386.7 L530.2,382.3 Q529.5,381 529.7,379.8 Z"/>
<ellipse cx="569.8" cy="331.4" rx="2.4" ry="2.1"/>
</g>
<g fill="none" stroke="#C2A47B" stroke-width="1.05" stroke-linecap="round">
<path d="M500.5,344.5 L505.9,331.5 M500.5,344.5 L492.2,346.3 M500.5,344.5 L504.9,351"/>
<path d="M528,355.3 L537.6,344 M528,355.3 L515.5,351.7 M528,355.3 L531.5,364 L532.8,366.1"/>
<path d="M509.5,378.6 L495.8,367.9 L491,369.6 M509.5,378.6 L524.4,376.8 M509.5,378.6 L505.9,388.8"/>
<path d="M544.8,333.4 L546.1,338.9 L551.7,341.7 L555.2,343.8"/>
<path d="M593.5,338.9 L590.7,329.2 M593.5,338.9 L585.2,343.1 M593.5,338.9 L601.9,344.5"/>
<path d="M572.6,358.4 L578.2,345.9 M572.6,358.4 L555.2,359.1 M572.6,358.4 L576.8,364 L577,370 M555.2,359.1 L551.7,364"/>
<path d="M594.9,364 L598.4,355.7 M594.9,364 L589.4,364.7 M594.9,364 L599.1,371 M593.5,380.7 L596.5,378.5"/>
<path d="M575.4,379.4 L571.2,375.2 M575.4,379.4 L583.8,378.7 M575.4,379.4 L572.6,386.3"/>
<path d="M541.2,380.4 L535.2,374.4 M541.2,380.4 L555,377 M541.2,380.4 L538.2,389.4"/>
<path d="M491.5,322.5 L495.8,326.5 L499.5,323 L503.8,327"/>
<path d="M512.5,327 L516.1,323.5 L522.6,325"/>
<path d="M531.2,324 L536.3,326.5 L545.7,324.5 L551.5,325.5"/>
<path d="M555.8,322.5 L560.1,326.5 L563.8,323.5"/>
<path d="M571.7,325.5 L576.8,323 L583.3,326"/>
<path d="M592.7,325 L597.7,322 L605,325.5"/>
</g>
<path d="M489.3,319.6 Q498,318.6 505.2,317.5 L510.3,316.8 M586.9,316.8 L591.9,317.5 Q596,319.4 599.2,319.6 L609.3,319.6" fill="none" stroke="#3A4542" stroke-width="1.5"/>
<rect x="510.3" y="307.6" width="76.6" height="13.8" fill="#B08C62" stroke="#5A5042" stroke-width="1.6"/>
<path d="M535.3,294.3 V307.6 H561.6 V294.3" fill="#B08C62" stroke="#5A5042" stroke-width="1.6"/>
<rect x="536.1" y="294.3" width="24.7" height="1.5" fill="#B08C62"/>
</g>
</svg>

<div class="a title" style="left:76.3px;top:46.1px;letter-spacing:-0.162px">Тип почвы определяет фундамент и сроки монтажа</div>
<div class="a h" style="left:236.1px;top:127.4px;letter-spacing:0.071px">Песчаный</div>
<div class="a h" style="left:638.4px;top:127.5px;letter-spacing:0.112px">Глинистый</div>
<div class="a h" style="left:237.1px;top:287.4px;letter-spacing:0.286px">Чернозем</div>
<div class="a h" style="left:638.9px;top:287.0px;letter-spacing:0.178px">Каменистый</div>
<div class="a t" style="left:236.8px;top:158.1px;letter-spacing:-0.165px">Быстрая усадка. Можно</div>
<div class="a t" style="left:236.8px;top:176.6px;letter-spacing:-0.248px">начинать через 6+ месяцев.</div>
<div class="a t" style="left:237.8px;top:199.4px;letter-spacing:-0.310px">Требуется расширенное</div>
<div class="a t" style="left:236.8px;top:217.7px;letter-spacing:-0.300px">основание.</div>
<div class="a t" style="left:638.6px;top:158.1px;letter-spacing:-0.183px">Риск пучения. Ждать</div>
<div class="a t" style="left:638.6px;top:177.2px;letter-spacing:-0.147px">более 1 года (полный</div>
<div class="a t" style="left:638.6px;top:198.1px;letter-spacing:-0.040px">цикл заморозки).</div>
<div class="a t" style="left:638.6px;top:216.9px;letter-spacing:-0.300px">армирование.</div>
<div class="a t" style="left:236.8px;top:318.0px;letter-spacing:-0.194px">Рыхлая структура.</div>
<div class="a t" style="left:237.8px;top:336.8px;letter-spacing:-0.241px">Требуется глубокая</div>
<div class="a t" style="left:236.8px;top:355.6px;letter-spacing:-0.217px">выемка до твердых слоев.</div>
<div class="a t" style="left:236.8px;top:373.4px;letter-spacing:-0.253px">Риск обвала траншеи.</div>
<div class="a t" style="left:638.4px;top:318.0px;letter-spacing:-0.230px">Высокая стабильность.</div>
<div class="a t" style="left:638.4px;top:335.8px;letter-spacing:-0.129px">Возможна установка</div>
<div class="a t" style="left:638.4px;top:353.5px;letter-spacing:-0.300px">через 9 месяцев.</div>
<div class="a t" style="left:638.4px;top:372.4px;letter-spacing:-0.283px">Минимальная усадка.</div>
<div class="a foot" style="left:69.2px;top:443.0px;letter-spacing:-0.646px">Специалисты всегда учитывают геологию перед началом работ.</div>
</body></html>
